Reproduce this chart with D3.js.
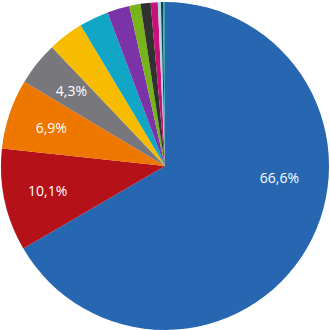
<!DOCTYPE html>
<html>
<head>
<meta charset="utf-8">
<script src="https://cdn.jsdelivr.net/npm/d3@7"></script>
<style>
  body { margin: 0; background: #fff; }
  .lbl { font-family: "Open Sans", sans-serif; font-size: 14px; fill: #fff; }
</style>
</head>
<body>
<div id="chart"></div>
<script>
// slice values, clockwise from 12 o'clock
var shares = [66.6, 10.1, 6.9, 4.3, 3.5, 2.9, 2.2, 1.1, 1.0, 0.7, 0.3, 0.2, 0.2];
var colors = ['#2766b1', '#b51118', '#ee7700', '#78777c', '#f7bb00', '#12a6c6',
              '#7b33a8', '#77b41c', '#313131', '#c9117c', '#a6dce6', '#1e3b4f', '#3ea6b3'];
// only these slices get a label
var labels = ['66,6%', '10,1%', '6,9%', '4,3%', '', '', '', '', '', '', '', '', ''];

var width = 330, height = 330;
var cx = 165, cy = 166, radius = 164;

var svg = d3.select('#chart')
    .append('svg')
    .attr('width', width)
    .attr('height', height);

var g = svg.append('g').attr('transform', 'translate(' + cx + ',' + cy + ')');

var pie = d3.pie().sort(null).value(function(d){ return d; });
var arcs = pie(shares);

var arc = d3.arc().innerRadius(0).outerRadius(radius);

g.selectAll('.slice')
    .data(arcs)
    .enter()
    .append('path')
    .attr('class', 'slice')
    .attr('d', arc)
    .attr('fill', function(d, i){ return colors[i]; });

// labels sit at about r=120; the big slice gets its label moved up toward the right side
var labelR = 120;
g.selectAll('.lbl')
    .data(arcs.filter(function(d, i){ return labels[i] !== ''; }))
    .enter()
    .append('text')
    .attr('class', 'lbl')
    .attr('text-anchor', 'middle')
    .attr('dy', '0.35em')
    .attr('x', function(d){
        var f = (d.endAngle - d.startAngle) > Math.PI ? 0.4 : 0.5;
        var a = d.startAngle + (d.endAngle - d.startAngle) * f;
        var r = (d.endAngle - d.startAngle) > Math.PI ? 115 : labelR;
        return r * Math.sin(a);
    })
    .attr('y', function(d){
        var f = (d.endAngle - d.startAngle) > Math.PI ? 0.4 : 0.5;
        var a = d.startAngle + (d.endAngle - d.startAngle) * f;
        var r = (d.endAngle - d.startAngle) > Math.PI ? 115 : labelR;
        return -r * Math.cos(a);
    })
    .text(function(d){ return labels[d.index]; });
</script>
</body>
</html>
